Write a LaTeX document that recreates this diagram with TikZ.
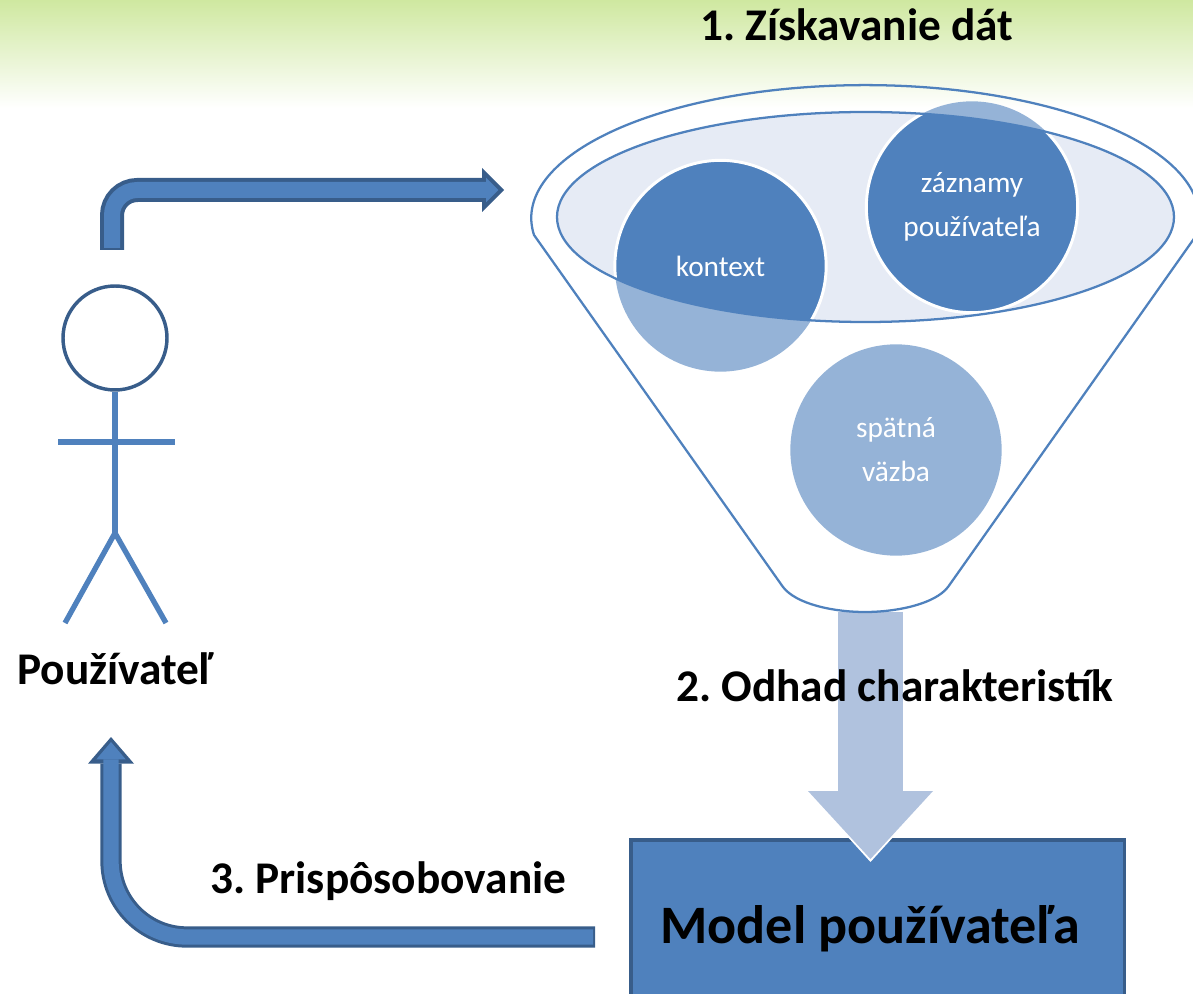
\documentclass[tikz,border=0pt]{standalone}
\usepackage{fontspec}
\setmainfont{Carlito}
\usetikzlibrary{arrows.meta}
\definecolor{midblue}{HTML}{4F81BD}
\definecolor{darkblue}{HTML}{385D8A}
\definecolor{lightblue}{HTML}{95B3D7}
\definecolor{paleblue}{HTML}{E6EBF5}
\definecolor{arrowblue}{HTML}{B0C2DE}
\definecolor{topgreen}{HTML}{CFE8A0}

\begin{document}
\frenchspacing
\begin{tikzpicture}[x=0.75pt,y=-0.75pt,
    bubble/.style={circle,minimum size=158.5pt,inner sep=0pt,text=white,align=center,font=\fontsize{22}{33}\selectfont},
    title/.style={font=\bfseries\fontsize{34}{38}\selectfont,text=black,inner sep=0pt,anchor=base west},
    funnelline/.style={draw=midblue,line width=1.7pt},
    limb/.style={draw=midblue,line width=4pt}]
\useasboundingbox (0,0) rectangle (1193,994);
\clip (0,0) rectangle (1193,994);
\shade[top color=topgreen,bottom color=white] (0,0) rectangle (1193,108);

% the model box and the big arrow on it
\node[draw=darkblue,fill=midblue,line width=2.5pt,minimum width=370pt,minimum height=150pt,inner sep=0pt] (model) at (877.5,940) {};
\coordinate (funnelout) at (870.5,612);
\coordinate (modeltip) at (870.5,862);
\coordinate (modeltip2) at (870.5,859);
\draw[white,line width=48.75pt,-{Triangle[length=53.5pt,width=97pt,line width=0pt]}] (funnelout) -- (modeltip);
\draw[arrowblue,line width=48.75pt,-{Triangle[length=51pt,width=93.75pt,line width=0pt]}] (funnelout) -- (modeltip2);

% funnel
\node[bubble,fill=lightblue] (kontextback) at (720.5,266) {};
\node[bubble,fill=lightblue] (zaznamyback) at (972,207) {};
\path[fill=paleblue] (865.5,217) ellipse [x radius=308.5,y radius=105];
\begin{scope}
  \clip (865.5,217) ellipse [x radius=308.5,y radius=105];
  \node[bubble,fill=midblue,draw=white,line width=2.2pt] (kontext) at (720.5,266) {kontext};
  \node[bubble,fill=midblue,draw=white,line width=2.2pt] (zaznamy) at (972,207) {záznamy\\používateľa};
\end{scope}
\node[bubble,fill=lightblue] (spatna) at (896,450) {spätná\\väzba};
\path[funnelline] (865.5,217) ellipse [x radius=308.5,y radius=105];
\path[funnelline] (534,235) arc [start angle=172.7,end angle=367.3,x radius=334,y radius=133]
   -- (948,587) .. controls (935,604) and (897,612) .. (865,612)
   .. controls (833,612) and (796,604) .. (783,587) -- cycle;

% person
\node[circle,draw=darkblue,line width=2.6pt,minimum size=78pt,inner sep=0pt] (head) at (115,338) {};
\coordinate (hip) at (115,533);
\coordinate (armleft) at (58,442);
\coordinate (armright) at (175,442);
\coordinate (footleft) at (65,623);
\coordinate (footright) at (166,623);
\draw[limb] (head) -- (hip);
\draw[limb] (armleft) -- (armright);
\draw[limb] (footleft) -- (hip) -- (footright);

% labels
\node[title] (step1) at (700,41) {1. Získavanie dát};
\node[title] (step2) at (676,701) {2. Odhad charakteristík};
\node[title] (step3) at (210,893) {3. Prispôsobovanie};
\node[title] (user) at (17,685) {Používateľ};
\node[title,font=\bfseries\fontsize{40.6}{45}\selectfont] (modeltext) at (660,943) {Model používateľa};

% bent arrows
\coordinate (userout) at (112,250);
\coordinate (userin) at (112,248);
\coordinate (funnelin) at (504,190);
\coordinate (funnelin2) at (498.4,190);
\draw[darkblue,line width=18pt,rounded corners=19pt,-{Triangle[length=16.5pt,width=33pt,line width=0pt]}] (userout) |- (funnelin);
\draw[midblue,line width=12pt,rounded corners=19pt,-{Triangle[length=9.3pt,width=18.6pt,line width=0pt]}] (userin) |- (funnelin2);
\coordinate (modelout) at (595,937);
\coordinate (modelout2) at (593,937);
\coordinate (usertip) at (111,737);
\coordinate (usertip2) at (111,742);
\draw[darkblue,line width=16pt,rounded corners=57pt,-{Triangle[length=20pt,width=34.5pt,line width=0pt]}] (modelout) -| (usertip);
\draw[midblue,line width=11.5pt,rounded corners=57pt,-{Triangle[length=13pt,width=22pt,line width=0pt]}] (modelout2) -| (usertip2);
\end{tikzpicture}
\end{document}
